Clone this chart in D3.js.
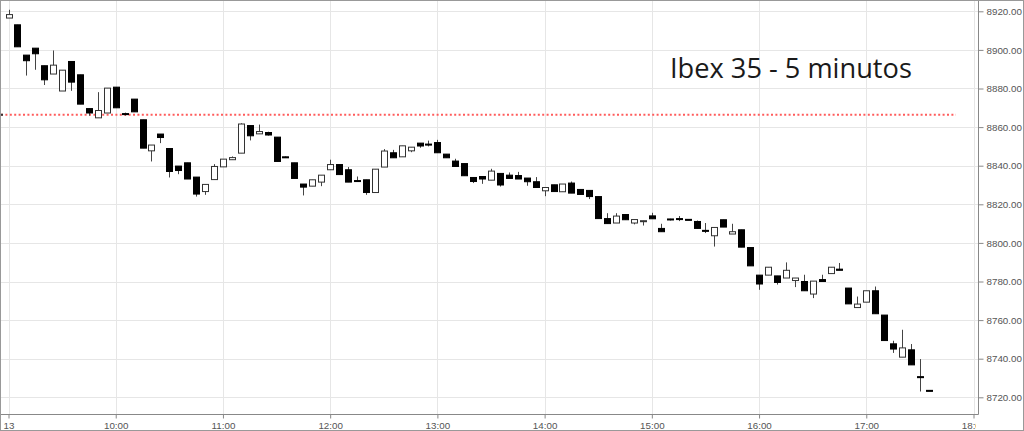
<!DOCTYPE html>
<html>
<head>
<meta charset="utf-8">
<script src="https://cdn.jsdelivr.net/npm/d3@7"></script>
<style>
  html, body { margin: 0; padding: 0; background: #fff; }
  svg { display: block; }
  .axis text { font-family: "Liberation Sans", Arial, sans-serif; font-size: 9.8px; fill: #555; }
  .axis .domain { stroke: #888; }
  .axis .tick line { stroke: #888; }
</style>
</head>
<body>
<div id="chart"></div>
<script>
// 5 minute bars, 9:00 .. 17:35
var open  = [8916.5, 8913.0, 8897.3, 8900.9, 8891.8, 8887.5, 8878.7, 8894.0, 8887.1, 8869.6,
             8864.8, 8867.3, 8880.7, 8867.0, 8874.5, 8863.8, 8847.7, 8856.4, 8848.9, 8839.8,
             8841.5, 8834.1, 8826.6, 8832.8, 8839.4, 8843.1, 8846.5, 8860.8, 8856.5, 8857.2,
             8854.8, 8844.6, 8841.5, 8830.5, 8829.4, 8831.5, 8837.9, 8840.6, 8837.9, 8832.3,
             8832.7, 8826.1, 8839.3, 8846.7, 8844.6, 8847.7, 8851.7, 8851.2, 8852.0, 8846.0,
             8842.4, 8841.1, 8833.9, 8834.4, 8832.5, 8836.0, 8835.1, 8834.9, 8833.6, 8831.7,
             8827.0, 8830.1, 8826.5, 8831.0, 8827.7, 8827.2, 8824.0, 8812.6, 8810.3, 8814.7,
             8810.3, 8811.2, 8814.0, 8807.5, 8812.4, 8812.6, 8812.2, 8811.1, 8806.5, 8803.7,
             8812.0, 8804.6, 8806.8, 8797.6, 8783.3, 8783.3, 8782.9, 8781.8, 8780.5, 8780.0,
             8773.5, 8781.0, 8784.1, 8786.4, 8776.6, 8766.5, 8769.3, 8775.2, 8762.6, 8747.7,
             8740.8, 8744.6, 8730.7, 8723.6];
var high  = [8920.8, 8913.0, 8897.3, 8900.9, 8891.8, 8899.7, 8889.5, 8894.0, 8887.1, 8869.6,
             8878.1, 8880.2, 8880.7, 8867.5, 8874.5, 8863.8, 8850.7, 8856.4, 8848.9, 8839.8,
             8841.5, 8834.1, 8830.3, 8840.8, 8843.4, 8844.8, 8862.0, 8860.8, 8861.3, 8857.6,
             8854.8, 8844.8, 8841.5, 8830.5, 8832.7, 8835.1, 8843.1, 8840.6, 8839.3, 8834.4,
             8832.7, 8838.2, 8848.6, 8848.2, 8850.3, 8849.6, 8851.7, 8853.0, 8853.4, 8846.0,
             8843.6, 8841.1, 8833.9, 8834.4, 8838.4, 8836.0, 8836.5, 8836.8, 8833.6, 8834.1,
             8828.7, 8830.1, 8830.5, 8831.8, 8827.7, 8827.2, 8824.0, 8815.4, 8815.4, 8814.7,
             8812.1, 8811.5, 8815.6, 8809.9, 8812.5, 8813.9, 8812.3, 8811.6, 8810.3, 8808.0,
             8812.0, 8809.9, 8806.8, 8797.6, 8783.3, 8787.4, 8782.9, 8789.9, 8781.8, 8783.5,
             8780.2, 8783.5, 8787.4, 8789.6, 8776.6, 8772.2, 8775.2, 8777.4, 8762.6, 8749.3,
             8755.0, 8747.6, 8739.8, 8723.6];
var low   = [8916.5, 8901.6, 8886.7, 8889.7, 8881.8, 8887.5, 8878.7, 8878.8, 8871.9, 8865.9,
             8864.8, 8867.3, 8870.0, 8866.0, 8867.9, 8849.1, 8842.2, 8851.7, 8833.9, 8835.6,
             8833.1, 8824.0, 8824.9, 8832.8, 8839.4, 8843.1, 8846.5, 8853.1, 8856.5, 8855.6,
             8842.2, 8844.2, 8833.4, 8824.6, 8829.4, 8829.4, 8837.9, 8835.4, 8831.5, 8831.6,
             8824.9, 8826.1, 8839.3, 8844.1, 8844.6, 8847.0, 8849.3, 8850.0, 8846.7, 8844.1,
             8839.6, 8834.8, 8831.0, 8830.6, 8832.5, 8829.2, 8833.4, 8833.1, 8829.6, 8828.7,
             8824.2, 8826.6, 8826.5, 8825.8, 8825.1, 8822.7, 8812.6, 8810.0, 8810.3, 8812.0,
             8809.6, 8809.0, 8812.5, 8805.8, 8811.6, 8811.3, 8811.8, 8807.5, 8805.1, 8798.1,
             8808.2, 8804.6, 8797.8, 8788.1, 8775.7, 8783.3, 8778.4, 8781.8, 8777.1, 8775.2,
             8771.4, 8780.0, 8784.1, 8785.8, 8768.4, 8766.5, 8769.3, 8763.3, 8749.4, 8743.0,
             8740.8, 8736.8, 8723.0, 8723.4];
var close = [8918.3, 8901.6, 8894.4, 8898.0, 8884.5, 8892.1, 8889.5, 8883.3, 8871.9, 8867.3,
             8868.6, 8880.2, 8870.0, 8866.5, 8867.9, 8849.1, 8850.7, 8854.6, 8837.0, 8837.5,
             8833.1, 8825.3, 8830.3, 8839.6, 8843.4, 8844.2, 8861.6, 8855.5, 8857.7, 8855.9,
             8842.2, 8844.4, 8833.4, 8828.9, 8832.7, 8835.1, 8840.6, 8835.4, 8831.5, 8832.0,
             8826.1, 8838.2, 8847.6, 8844.1, 8850.3, 8849.6, 8850.2, 8851.0, 8846.7, 8844.1,
             8839.6, 8834.8, 8831.8, 8833.1, 8837.2, 8830.0, 8833.4, 8833.1, 8831.7, 8828.7,
             8828.7, 8826.6, 8830.5, 8825.8, 8825.1, 8824.0, 8812.6, 8810.0, 8813.9, 8812.0,
             8812.1, 8811.5, 8812.5, 8805.8, 8812.2, 8812.4, 8811.9, 8807.5, 8806.3, 8808.0,
             8808.2, 8805.8, 8797.8, 8788.1, 8778.7, 8787.4, 8779.5, 8785.8, 8781.8, 8775.2,
             8780.2, 8780.0, 8787.4, 8785.8, 8768.4, 8768.3, 8775.2, 8763.3, 8749.4, 8745.0,
             8745.6, 8736.8, 8730.3, 8723.4];

var prevClose = 8866.4;
var yTicks = [8720, 8740, 8760, 8780, 8800, 8820, 8840, 8860, 8880, 8900, 8920];
var hourTicks = [9, 10, 11, 12, 13, 14, 15, 16, 17, 18];
var firstTickLabel = "13";
var title = "Ibex 35 - 5 minutos";

var width = 1024, height = 431;
var plot = {left: 1, top: 1, right: 978, bottom: 414};

function at(h, m) { return new Date(2017, 0, 13, h, m || 0); }

var data = open.map(function(o, i) {
  return {t: at(9, i * 5), o: o, h: high[i], l: low[i], c: close[i]};
});

var svg = d3.select("#chart").append("svg")
  .attr("width", width)
  .attr("height", height);

var x = d3.scaleTime().domain([at(9), at(18)]).range([8.5, 973.5]);
var y = d3.scaleLinear().domain([8720, 8920]).range([397.3, 11.3]);

var defs = svg.append("defs");
defs.append("clipPath").attr("id", "plotclip")
  .append("rect")
  .attr("x", plot.left).attr("y", plot.top)
  .attr("width", plot.right - plot.left).attr("height", plot.bottom - plot.top);
defs.append("clipPath").attr("id", "xlabclip")
  .append("rect")
  .attr("x", 1).attr("y", plot.bottom - 2)
  .attr("width", 975).attr("height", height - plot.bottom + 1);

// grid
var grid = svg.append("g").attr("clip-path", "url(#plotclip)");
grid.selectAll(".hgrid")
  .data(yTicks)
  .enter().append("line")
  .attr("class", "hgrid")
  .attr("x1", plot.left).attr("x2", plot.right)
  .attr("y1", function(d) { return Math.round(y(d)) + 0.5; })
  .attr("y2", function(d) { return Math.round(y(d)) + 0.5; })
  .style("stroke", "#e6e6e6");
grid.selectAll(".vgrid")
  .data(hourTicks)
  .enter().append("line")
  .attr("class", "vgrid")
  .attr("y1", plot.top).attr("y2", plot.bottom)
  .attr("x1", function(d) { return Math.round(x(at(d))) + 0.5; })
  .attr("x2", function(d) { return Math.round(x(at(d))) + 0.5; })
  .style("stroke", "#e6e6e6");

// previous close
grid.append("line")
  .attr("x1", plot.left).attr("x2", 956)
  .attr("y1", y(prevClose)).attr("y2", y(prevClose))
  .style("stroke", "#ff5c5c")
  .style("stroke-width", 2)
  .style("stroke-dasharray", "2,2.4");
grid.append("line")
  .attr("x1", 0).attr("x2", 3)
  .attr("y1", y(prevClose)).attr("y2", y(prevClose))
  .style("stroke", "#333")
  .style("stroke-width", 2);

// candles
var candles = svg.append("g").attr("clip-path", "url(#plotclip)")
  .selectAll(".candle")
  .data(data)
  .enter().append("g")
  .attr("class", "candle")
  .attr("transform", function(d) { return "translate(" + Math.round(x(d.t)) + ",0)"; });

candles.append("line")
  .attr("x1", 0.5).attr("x2", 0.5)
  .attr("y1", function(d) { return y(d.h); })
  .attr("y2", function(d) { return y(d.l); })
  .style("stroke", "#444");

candles.append("rect")
  .attr("x", -2.5)
  .attr("width", 6)
  .attr("y", function(d) { return y(Math.max(d.o, d.c)); })
  .attr("height", function(d) { return Math.max(1, Math.abs(y(d.o) - y(d.c))); })
  .style("fill", function(d) { return d.c > d.o ? "#fff" : "#000"; })
  .style("stroke", function(d) { return d.c > d.o ? "#333" : "#000"; })
  .style("stroke-width", 1);

// axes
var yAxis = d3.axisRight(y)
  .tickValues(yTicks)
  .tickSize(5)
  .tickPadding(3)
  .tickFormat(d3.format(".2f"));
svg.append("g")
  .attr("class", "axis")
  .attr("transform", "translate(" + (plot.right + 0.5) + ",0)")
  .call(yAxis)
  .call(function(g) { g.select(".domain").attr("d", "M0," + plot.top + "V" + (plot.bottom + 0.5)); });

var xAxis = d3.axisBottom(x)
  .tickValues(hourTicks.map(function(h) { return at(h); }))
  .tickSize(4)
  .tickPadding(4)
  .tickFormat(function(d, i) { return i === 0 ? firstTickLabel : d3.timeFormat("%H:%M")(d); });
svg.append("g")
  .attr("clip-path", "url(#xlabclip)")
  .append("g")
  .attr("class", "axis")
  .attr("transform", "translate(0," + (plot.bottom + 0.5) + ")")
  .call(xAxis)
  .call(function(g) { g.select(".domain").attr("d", "M" + plot.left + ",0H" + (plot.right + 0.5)); });
svg.append("line")
  .attr("x1", 973).attr("x2", plot.right + 0.5)
  .attr("y1", plot.bottom + 0.5).attr("y2", plot.bottom + 0.5)
  .style("stroke", "#888");

// title
var t = svg.append("text")
  .attr("x", 670)
  .attr("y", 78)
  .style("font-family", "'Open Sans', 'Noto Sans', sans-serif")
  .style("font-size", "25px")
  .style("fill", "#1a1a1a")
  .text(title);
var tw = t.node().getComputedTextLength();
t.style("font-size", (25 * 242 / tw) + "px");

// frame
svg.append("rect")
  .attr("x", 0.5).attr("y", 0.5)
  .attr("width", width - 1).attr("height", height - 1)
  .style("fill", "none")
  .style("stroke", "#999");
</script>
</body>
</html>
